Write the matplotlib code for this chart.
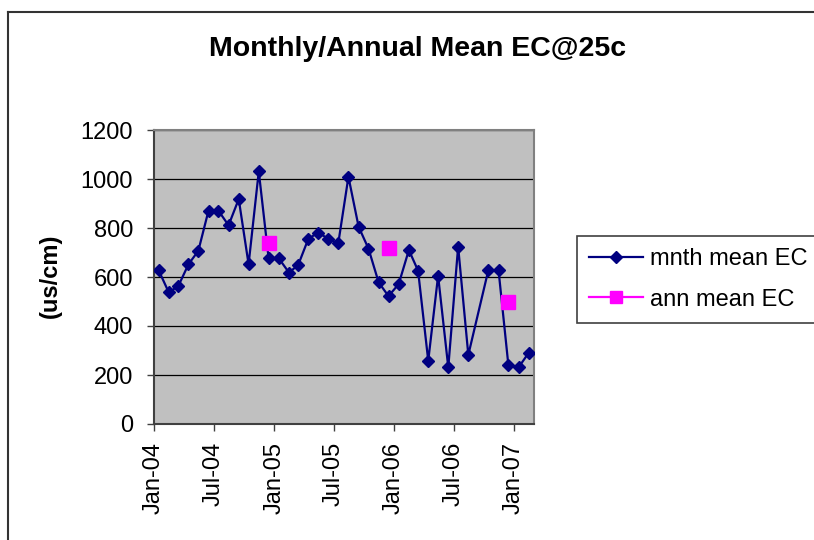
import datetime as dt
import matplotlib
matplotlib.use("Agg")
import matplotlib.pyplot as plt
import matplotlib.dates as mdates
from matplotlib.lines import Line2D

plt.rcParams['font.family'] = ['Liberation Sans', 'DejaVu Sans']

# monthly mean EC (us/cm), Sep-06 missing
months = ["2004-01", "2004-02", "2004-03", "2004-04", "2004-05", "2004-06",
          "2004-07", "2004-08", "2004-09", "2004-10", "2004-11", "2004-12",
          "2005-01", "2005-02", "2005-03", "2005-04", "2005-05", "2005-06",
          "2005-07", "2005-08", "2005-09", "2005-10", "2005-11", "2005-12",
          "2006-01", "2006-02", "2006-03", "2006-04", "2006-05", "2006-06",
          "2006-07", "2006-08", "2006-10", "2006-11", "2006-12",
          "2007-01", "2007-02"]
mnth_ec = [628, 537, 563, 652, 707, 871,
           871, 811, 918, 652, 1031, 676,
           676, 618, 649, 756, 781, 756,
           737, 1009, 805, 716, 578, 522,
           571, 710, 626, 258, 605, 231,
           724, 282, 628, 628, 240,
           231, 291]

# annual means, plotted at December
years = ["2004-12", "2005-12", "2006-12"]
ann_ec = [740, 717, 499]


def to_date(s):
    y, m = s.split("-")
    return dt.date(int(y), int(m), 15)


mnth_dates = [to_date(s) for s in months]
ann_dates = [to_date(s) for s in years]

fig = plt.figure(figsize=(8.14, 5.4), dpi=100)
ax = fig.add_axes([154 / 814, 1 - 424 / 540, 380 / 814, 294 / 540])
ax.set_facecolor('#C0C0C0')

ax.plot(mnth_dates, mnth_ec, color='#000080', lw=1.6, marker='D', ms=6.5,
        label='mnth mean EC', zorder=3)
ax.plot(ann_dates, ann_ec, color='#FF00FF', lw=0, marker='s', ms=10,
        label='ann mean EC', zorder=4)

ax.set_ylim(0, 1200)
ax.set_yticks(range(0, 1201, 200))
ax.set_xlim(dt.date(2004, 1, 1), dt.date(2007, 3, 3))
ax.xaxis.set_major_locator(mdates.MonthLocator(bymonth=[1, 7]))
ax.xaxis.set_major_formatter(mdates.DateFormatter('%b-%y'))
ax.grid(axis='y', color='black', lw=0.9)
ax.set_axisbelow(True)
for lab in ax.get_xticklabels():
    lab.set_rotation(90)

ax.tick_params(labelsize=17, length=5, width=1, color='#404040', direction='out')
ax.tick_params(axis='y', pad=10)
ax.tick_params(axis='x', pad=8)
for sp in ax.spines.values():
    sp.set_color('#808080')
    sp.set_linewidth(1.5)
ax.spines['left'].set_color('#404040')
ax.spines['bottom'].set_color('#404040')

fig.text(50 / 814, 1 - 276 / 540, '(us/cm)', fontsize=17, fontweight='bold',
         rotation=90, ha='center', va='center')
fig.text(418 / 814, 1 - 49 / 540, 'Monthly/Annual Mean EC@25c', fontsize=20.5,
         fontweight='bold', ha='center', va='center')

handles = [Line2D([], [], color='#000080', lw=1.6, marker='D', ms=6.5),
           Line2D([], [], color='#FF00FF', lw=1.6, marker='s', ms=9)]
leg = fig.legend(handles, ['mnth mean EC', 'ann mean EC'], loc='upper left',
                 bbox_to_anchor=(577 / 814, 1 - 236 / 540), fontsize=17,
                 fancybox=False, framealpha=1, edgecolor='#404040',
                 handlelength=2.3, handletextpad=0.3, borderpad=0.5,
                 labelspacing=0.8, borderaxespad=0)
leg.get_frame().set_linewidth(1.2)

# chart border (clipped at right and bottom in the reference)
fig.add_artist(Line2D([8 / 814, 8 / 814], [0, 1 - 12 / 540], color='#333333', lw=1.5))
fig.add_artist(Line2D([8 / 814, 1], [1 - 12 / 540, 1 - 12 / 540], color='#333333', lw=1.5))

fig.savefig('out.png', dpi=100)
